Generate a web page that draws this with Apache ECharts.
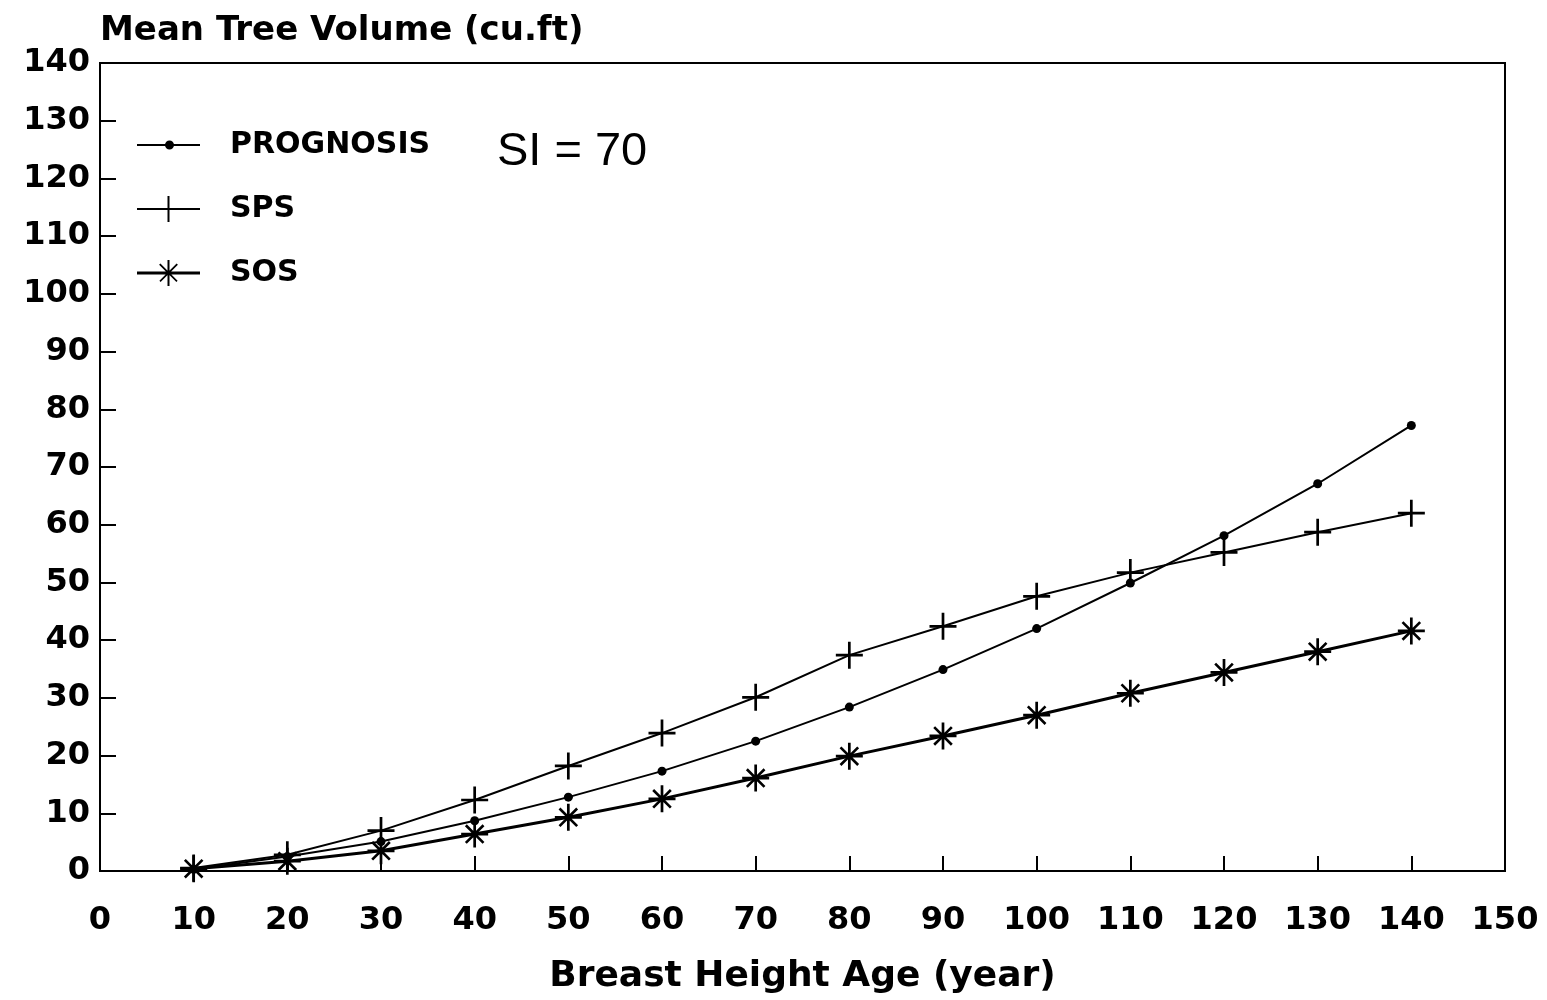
<!DOCTYPE html>
<html>
<head>
<meta charset="utf-8">
<script src="https://cdn.jsdelivr.net/npm/echarts@6/dist/echarts.min.js"></script>
<style>html,body{margin:0;padding:0;background:#fff}#c{width:1547px;height:1000px}</style>
</head>
<body>
<div id="c"></div>
<script>
const ages = [10, 20, 30, 40, 50, 60, 70, 80, 90, 100, 110, 120, 130, 140];
const prognosis = [0.3, 2.5, 5.1, 8.7, 12.8, 17.3, 22.5, 28.4, 34.9, 42.0, 49.9, 58.1, 67.1, 77.2];
const sps = [0.5, 2.8, 7.0, 12.3, 18.2, 23.9, 30.1, 37.4, 42.4, 47.6, 51.7, 55.2, 58.7, 62.0];
const sos = [0.4, 1.7, 3.5, 6.4, 9.3, 12.5, 16.1, 19.9, 23.4, 27.0, 30.8, 34.4, 38.0, 41.6];
const seriesNames = ['PROGNOSIS', 'SPS', 'SOS'];
const xTitle = 'Breast Height Age (year)';
const yTitle = 'Mean Tree Volume (cu.ft)';
const note = 'SI = 70';

const pairs = (vals) => ages.map((a, i) => [a, vals[i]]);

const plusPath = 'path://M-1.3,-13 L1.3,-13 L1.3,13 L-1.3,13 Z M-13,-1.3 L13,-1.3 L13,1.3 L-13,1.3 Z';
const starPath = 'path://M-1.3,-13 L1.3,-13 L1.3,13 L-1.3,13 Z M-13,-1.3 L13,-1.3 L13,1.3 L-13,1.3 Z ' +
  'M-7.6,-9.4 L9.4,7.6 L7.6,9.4 L-9.4,-7.6 Z M9.4,-7.6 L-7.6,9.4 L-9.4,7.6 L7.6,-9.4 Z';

const iconDot = 'path://M0,12 L63,12 L63,14 L0,14 Z M28,13 A4.5,4.5 0 1 1 37,13 A4.5,4.5 0 1 1 28,13 Z';
const iconPlus = 'path://M0,12 L63,12 L63,14 L0,14 Z M30.5,0 L32.5,0 L32.5,26 L30.5,26 Z';
const iconStar = 'path://M0,11.5 L63,11.5 L63,14.5 L0,14.5 Z M30.5,0 L32.5,0 L32.5,26 L30.5,26 Z ' +
  'M23.4,3.5 L40.6,20.7 L39.4,22 L22.1,4.8 Z M40.9,4.8 L23.6,22 L22.4,20.7 L39.6,3.5 Z';

const font = 'DejaVu Sans';
const chart = echarts.init(document.getElementById('c'), null, {renderer: 'canvas'});
chart.setOption({
  animation: false,
  backgroundColor: '#fff',
  title: {
    text: note, left: 492, top: 124,
    textStyle: {fontFamily: 'Liberation Sans', fontSize: 47, fontWeight: 'normal', color: '#000'}
  },
  legend: {
    orient: 'vertical', left: 132, top: 125,
    itemWidth: 63, itemHeight: 26, itemGap: 34,
    data: [
      {name: seriesNames[0], icon: iconDot},
      {name: seriesNames[1], icon: iconPlus},
      {name: seriesNames[2], icon: iconStar}
    ],
    textStyle: {fontFamily: font, fontWeight: 'bold', fontSize: 30, color: '#000', padding: [0, 0, 0, 25]}
  },
  grid: {left: 100, right: 42, top: 63, bottom: 128, show: true, borderColor: '#000', borderWidth: 2, containLabel: false},
  xAxis: {
    type: 'value', min: 0, max: 150, interval: 10,
    name: xTitle, nameLocation: 'middle', nameGap: 88,
    nameTextStyle: {fontFamily: font, fontWeight: 'bold', fontSize: 36, color: '#000'},
    axisLine: {lineStyle: {color: '#000', width: 2}},
    axisTick: {inside: true, length: 15, lineStyle: {color: '#000', width: 2}},
    axisLabel: {margin: 34, fontFamily: font, fontWeight: 'bold', fontSize: 32, color: '#000'},
    splitLine: {show: false}
  },
  yAxis: {
    type: 'value', min: 0, max: 140, interval: 10,
    name: yTitle, nameLocation: 'end', nameGap: 32,
    nameTextStyle: {fontFamily: font, fontWeight: 'bold', fontSize: 34, color: '#000', align: 'left', verticalAlign: 'middle'},
    axisLine: {lineStyle: {color: '#000', width: 2}},
    axisTick: {inside: true, length: 16, lineStyle: {color: '#000', width: 2}},
    axisLabel: {margin: 10, padding: [6, 0, 0, 0], fontFamily: font, fontWeight: 'bold', fontSize: 32, color: '#000'},
    splitLine: {show: false}
  },
  series: [
    {
      name: seriesNames[0], type: 'line', data: pairs(prognosis),
      symbol: 'circle', symbolSize: 9,
      itemStyle: {color: '#000', borderWidth: 0},
      lineStyle: {color: '#000', width: 2}
    },
    {
      name: seriesNames[1], type: 'line', data: pairs(sps),
      symbol: plusPath, symbolSize: 27,
      itemStyle: {color: '#000', borderWidth: 0},
      lineStyle: {color: '#000', width: 2}
    },
    {
      name: seriesNames[2], type: 'line', data: pairs(sos),
      symbol: starPath, symbolSize: 27,
      itemStyle: {color: '#000', borderWidth: 0},
      lineStyle: {color: '#000', width: 3}
    }
  ]
});
</script>
</body>
</html>
